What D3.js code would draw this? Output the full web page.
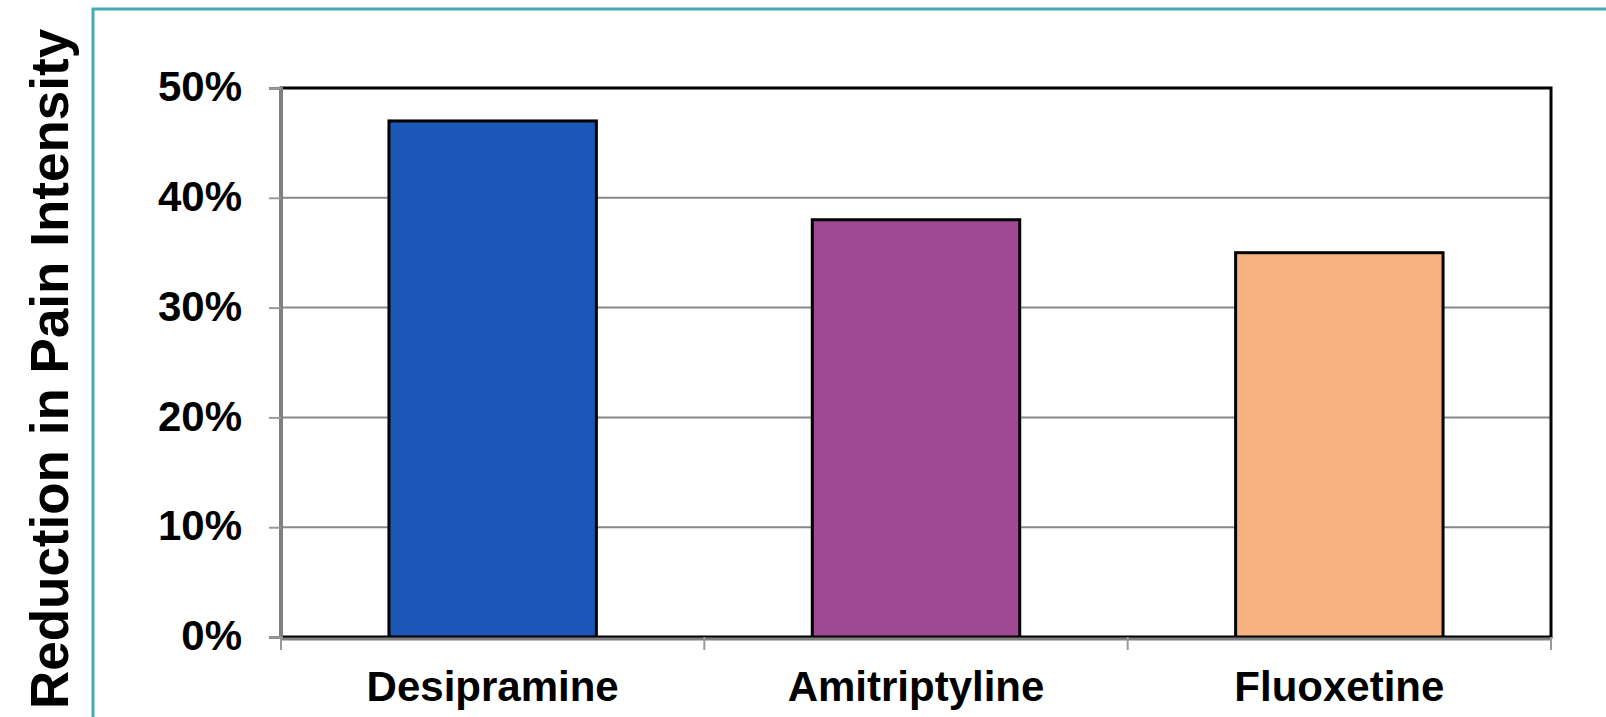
<!DOCTYPE html>
<html>
<head>
<meta charset="utf-8">
<script src="https://cdn.jsdelivr.net/npm/d3@7"></script>
<style>
  html, body { margin: 0; padding: 0; background: #ffffff; }
  svg { display: block; }
  text { font-family: Arial, "Liberation Sans", sans-serif; font-weight: bold; fill: #000; }
</style>
</head>
<body>
<script>
const categories = ["Desipramine", "Amitriptyline", "Fluoxetine"];
const values = [0.47, 0.38, 0.35];
const barColors = ["#1A57B6", "#A04893", "#F8B282"];
const yTicks = [0, 0.1, 0.2, 0.3, 0.4, 0.5];
const yTitle = "Reduction in Pain Intensity";

const W = 1606, H = 717;
const plot = { left: 281, right: 1551, top: 88, bottom: 637 };

const svg = d3.select("body").append("svg").attr("width", W).attr("height", H);

// teal frame
svg.append("path")
  .attr("d", `M93,${H + 5} L93,9 L${W + 5},9`)
  .attr("fill", "none").attr("stroke", "#45AAB3").attr("stroke-width", 3);

const x = d3.scaleBand().domain(categories).range([plot.left, plot.right])
  .paddingInner(0.51).paddingOuter(0.255);
const xSlot = d3.scaleBand().domain(categories).range([plot.left, plot.right]).padding(0);
const y = d3.scaleLinear().domain([0, 0.5]).range([plot.bottom, plot.top]);

// gridlines
svg.append("g").selectAll("line").data(yTicks.filter(t => t > 0 && t < 0.5)).join("line")
  .attr("x1", plot.left).attr("x2", plot.right)
  .attr("y1", d => y(d)).attr("y2", d => y(d))
  .attr("stroke", "#888").attr("stroke-width", 2);

// plot frame (top/right black)
svg.append("rect")
  .attr("x", plot.left).attr("y", plot.top)
  .attr("width", plot.right - plot.left).attr("height", plot.bottom - plot.top)
  .attr("fill", "none").attr("stroke", "#000").attr("stroke-width", 3);

// bars
svg.append("g").selectAll("rect").data(categories).join("rect")
  .attr("x", d => x(d))
  .attr("y", (d, i) => y(values[i]))
  .attr("width", x.bandwidth())
  .attr("height", (d, i) => y(0) - y(values[i]))
  .attr("fill", (d, i) => barColors[i])
  .attr("stroke", "#000").attr("stroke-width", 3);

// y axis
const yAxis = d3.axisLeft(y).tickValues(yTicks).tickFormat(d3.format(".0%")).tickSize(12).tickPadding(27);
const gy = svg.append("g").attr("transform", `translate(${plot.left},0)`).call(yAxis);
gy.select(".domain").attr("stroke", "#808080").attr("stroke-width", 3);
gy.selectAll(".tick line").attr("stroke", "#999").attr("stroke-width", 2);
gy.selectAll(".tick text").attr("font-size", 42).attr("font-family", null).attr("dy", "0.3em");

// x axis: ticks at category boundaries
const boundaries = [plot.left].concat(categories.map(c => xSlot(c) + xSlot.bandwidth()));
svg.append("line")
  .attr("x1", plot.left).attr("x2", plot.right)
  .attr("y1", plot.bottom + 2).attr("y2", plot.bottom + 2)
  .attr("stroke", "#808080").attr("stroke-width", 3);
svg.append("g").selectAll("line").data(boundaries).join("line")
  .attr("x1", d => d).attr("x2", d => d)
  .attr("y1", plot.bottom).attr("y2", plot.bottom + 13)
  .attr("stroke", "#999").attr("stroke-width", 2);
svg.append("g").selectAll("text").data(categories).join("text")
  .attr("x", d => xSlot(d) + xSlot.bandwidth() / 2)
  .attr("y", 701)
  .attr("text-anchor", "middle")
  .attr("font-size", 42)
  .text(d => d);

// y title
svg.append("text")
  .attr("transform", "translate(68,369) rotate(-90)")
  .attr("text-anchor", "middle")
  .attr("font-size", 53)
  .text(yTitle);
</script>
</body>
</html>
